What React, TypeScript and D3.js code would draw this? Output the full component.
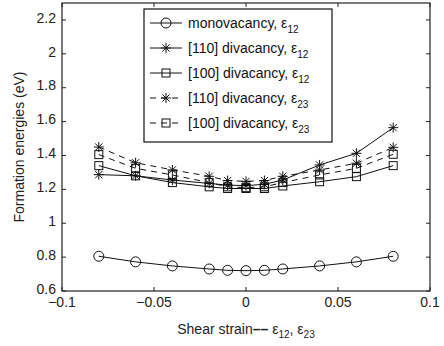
import React, {useRef, useEffect} from 'react';
import * as d3 from 'd3';

// strain values (x)
const strains = [-0.08, -0.06, -0.04, -0.02, -0.01, 0, 0.01, 0.02, 0.04, 0.06, 0.08];

// formation energies (eV)
const monoE12 = [0.805, 0.772, 0.748, 0.73, 0.722, 0.72, 0.722, 0.73, 0.748, 0.772, 0.805];
const di110E12 = [1.287, 1.28, 1.255, 1.235, 1.225, 1.222, 1.23, 1.255, 1.344, 1.413, 1.564];
const di100E12 = [1.34, 1.28, 1.24, 1.215, 1.205, 1.205, 1.205, 1.22, 1.245, 1.275, 1.34];
const di110E23 = [1.45, 1.357, 1.315, 1.277, 1.252, 1.247, 1.252, 1.277, 1.314, 1.354, 1.448];
const di100E23 = [1.405, 1.324, 1.285, 1.24, 1.215, 1.21, 1.215, 1.24, 1.285, 1.324, 1.407];

const xTicks = [-0.1, -0.05, 0, 0.05, 0.1];
const xTickLabels = ['\u22120.1', '\u22120.05', '0', '0.05', '0.1'];
const yTicks = [0.6, 0.8, 1, 1.2, 1.4, 1.6, 1.8, 2, 2.2];
const yTickLabels = ['0.6', '0.8', '1', '1.2', '1.4', '1.6', '1.8', '2', '2.2'];

const seriesNames = ['monovacancy', '[110] divacancy', '[100] divacancy', '[110] divacancy', '[100] divacancy'];
const seriesSubs = ['12', '12', '12', '23', '23'];
const seriesValues = [monoE12, di110E12, di100E12, di110E23, di100E23];
const seriesMarkers = ['circle', 'star', 'square', 'star', 'square'];
const seriesDashed = [false, false, false, true, true];

const FONT = '"Liberation Sans", Arial, Helvetica, sans-serif';

export default function App() {
  const ref = useRef<HTMLDivElement>(null);

  useEffect(() => {
    const ele = ref.current;
    if (!ele) return;
    d3.select(ele).selectAll('*').remove();

    const w = 444;
    const h = 346;
    const left = 62, right = 430, top = 3, bottom = 291;

    const svg = d3.select(ele)
      .append('svg')
      .attr('width', w)
      .attr('height', h)
      .style('display', 'block')
      .style('background', '#fff')
      .style('font-family', FONT);

    const x = d3.scaleLinear().domain([-0.1, 0.1]).range([left, right]);
    const y = d3.scaleLinear().domain([0.6, 2.3]).range([bottom, top]);

    // 画标记
    function drawMarker(g: any, type: string, cx: number, cy: number) {
      if (type === 'circle') {
        g.append('circle')
          .attr('cx', cx).attr('cy', cy).attr('r', 5)
          .attr('fill', 'none').attr('stroke', '#111').attr('stroke-width', 1);
      } else if (type === 'square') {
        g.append('rect')
          .attr('x', cx - 4).attr('y', cy - 4).attr('width', 8).attr('height', 8)
          .attr('fill', 'none').attr('stroke', '#111').attr('stroke-width', 1);
      } else {
        const r = 5;
        const d = r * 0.72;
        g.append('path')
          .attr('d', `M${cx - r},${cy}L${cx + r},${cy}M${cx},${cy - r}L${cx},${cy + r}` +
            `M${cx - d},${cy - d}L${cx + d},${cy + d}M${cx - d},${cy + d}L${cx + d},${cy - d}`)
          .attr('stroke', '#111').attr('stroke-width', 1).attr('fill', 'none');
      }
    }

    const line = d3.line<number>()
      .x((d, i) => x(strains[i]))
      .y(d => y(d));

    // 数据线
    const plot = svg.append('g');
    seriesValues.forEach((vals, k) => {
      plot.append('path')
        .attr('d', line(vals))
        .attr('fill', 'none')
        .attr('stroke', '#111')
        .attr('stroke-width', 1)
        .attr('stroke-dasharray', seriesDashed[k] ? '6,5' : null);
      vals.forEach((v, i) => drawMarker(plot, seriesMarkers[k], x(strains[i]), y(v)));
    });

    // 坐标框
    svg.append('rect')
      .attr('x', left).attr('y', top)
      .attr('width', right - left).attr('height', bottom - top)
      .attr('fill', 'none').attr('stroke', '#222').attr('stroke-width', 1.2);

    const tl = 4;
    xTicks.forEach((t, i) => {
      const px = x(t);
      svg.append('line').attr('x1', px).attr('x2', px).attr('y1', bottom).attr('y2', bottom - tl)
        .attr('stroke', '#222');
      svg.append('line').attr('x1', px).attr('x2', px).attr('y1', top).attr('y2', top + tl)
        .attr('stroke', '#222');
      svg.append('text')
        .attr('x', px).attr('y', bottom + 16)
        .attr('text-anchor', 'middle')
        .attr('font-size', 14)
        .attr('fill', '#222')
        .text(xTickLabels[i]);
    });

    yTicks.forEach((t, i) => {
      const py = y(t);
      svg.append('line').attr('x1', left).attr('x2', left + tl).attr('y1', py).attr('y2', py)
        .attr('stroke', '#222');
      svg.append('line').attr('x1', right).attr('x2', right - tl).attr('y1', py).attr('y2', py)
        .attr('stroke', '#222');
      svg.append('text')
        .attr('x', left - 6).attr('y', py - 1)
        .attr('text-anchor', 'end')
        .attr('dominant-baseline', 'middle')
        .attr('font-size', 14)
        .attr('fill', '#222')
        .text(yTickLabels[i]);
    });

    // 轴标题
    const xl = svg.append('text')
      .attr('x', 246).attr('y', 334)
      .attr('text-anchor', 'middle')
      .attr('font-size', 14)
      .attr('fill', '#222');
    xl.append('tspan').text('Shear strain');
    xl.append('tspan').attr('font-weight', 'bold').text('\u2013\u2013');
    xl.append('tspan').text(' \u03b5');
    xl.append('tspan').attr('font-size', 10).attr('dy', 4).text('12');
    xl.append('tspan').attr('dy', -4).text(', \u03b5');
    xl.append('tspan').attr('font-size', 10).attr('dy', 4).text('23');

    svg.append('text')
      .attr('transform', `translate(24,${(top + bottom) / 2}) rotate(-90)`)
      .attr('text-anchor', 'middle')
      .attr('font-size', 14)
      .attr('fill', '#222')
      .text('Formation energies (eV)');

    // 图例
    const lg = svg.append('g');
    lg.append('rect')
      .attr('x', 144).attr('y', 9).attr('width', 188).attr('height', 133)
      .attr('fill', '#fff').attr('stroke', '#111').attr('stroke-width', 1.2);
    seriesNames.forEach((name, k) => {
      const ry = 23 + k * 25;
      lg.append('line')
        .attr('x1', 150).attr('x2', 182).attr('y1', ry).attr('y2', ry)
        .attr('stroke', '#111').attr('stroke-width', 1)
        .attr('stroke-dasharray', seriesDashed[k] ? '6,5' : null)
        .attr('stroke-dashoffset', seriesDashed[k] ? 0 : null);
      drawMarker(lg, seriesMarkers[k], 166, ry);
      const t = lg.append('text')
        .attr('x', 188).attr('y', ry + 5)
        .attr('font-size', 14)
        .attr('fill', '#111');
      t.append('tspan').text(name + ', \u03b5');
      t.append('tspan').attr('font-size', 10).attr('dy', 5).text(seriesSubs[k]);
    });
  }, []);

  return (
    <div ref={ref} style={{position: 'absolute', top: 0, left: 0}}></div>
  );
}
